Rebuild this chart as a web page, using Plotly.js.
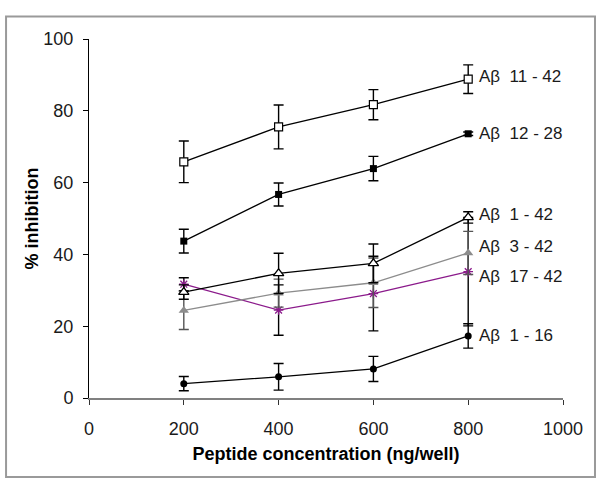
<!DOCTYPE html>
<html>
<head>
<meta charset="utf-8">
<script src="https://cdn.plot.ly/plotly-3.0.1.min.js"></script>
<style>
  body { margin: 0; background: #fff; }
  #chart { width: 601px; height: 494px; }
</style>
</head>
<body>
<div id="chart"></div>
<script>
// concentrations (ng/well)
var conc = [200, 400, 600, 800];

// % inhibition per peptide, with error
var ab11_42 = [65.8, 75.5, 81.7, 88.8];
var ab11_42Err = [5.8, 6.1, 4.2, 4.0];

var ab12_28 = [43.7, 56.7, 63.9, 73.6];
var ab12_28Err = [3.3, 3.2, 3.4, 0.5];

var ab1_42 = [29.5, 34.7, 37.5, 50.3];
var ab1_42Err = [2.0, 5.6, 5.4, 1.6];

var ab3_42 = [24.4, 29.2, 32.1, 40.4];
var ab3_42Err = [5.3, 3.9, 6.9, 6.0];

var ab17_42 = [31.7, 24.5, 29.1, 35.2];
var ab17_42Err = [1.8, 7.0, 10.4, 15.1];

var ab1_16 = [4.0, 5.9, 8.1, 17.3];
var ab1_16Err = [2.0, 3.7, 3.5, 3.4];

var labels = ['Aβ&nbsp; 11 - 42', 'Aβ&nbsp; 12 - 28', 'Aβ&nbsp; 1 - 42',
              'Aβ&nbsp; 3 - 42', 'Aβ&nbsp; 17 - 42', 'Aβ&nbsp; 1 - 16'];

var font = "'Liberation Sans', Arial, sans-serif";

function series(y, err, lineColor, errColor, marker) {
    return {
        x: conc,
        y: y,
        type: 'scatter',
        mode: 'lines+markers',
        line: { color: lineColor, width: 1.3 },
        marker: marker,
        error_y: { type: 'data', array: err, visible: true, color: errColor, thickness: 1.4, width: 5 },
        showlegend: false,
        hoverinfo: 'x+y'
    };
}

var data = [
    series(ab1_16, ab1_16Err, '#000', '#000', { symbol: 'circle', size: 7, color: '#000' }),
    series(ab17_42, ab17_42Err, '#8b1a8b', '#000', { symbol: 'asterisk-open', size: 8, line: { color: '#8b1a8b', width: 1.3 } }),
    series(ab3_42, ab3_42Err, '#8c8c8c', '#555', { symbol: 'triangle-up', size: 9, color: '#8c8c8c' }),
    series(ab1_42, ab1_42Err, '#000', '#000', { symbol: 'triangle-up', size: 9, color: '#fff', line: { color: '#000', width: 1.3 } }),
    series(ab12_28, ab12_28Err, '#000', '#000', { symbol: 'square', size: 7, color: '#000' }),
    series(ab11_42, ab11_42Err, '#000', '#000', { symbol: 'square', size: 8, color: '#fff', line: { color: '#000', width: 1.2 } })
];

var lastVals = [ab11_42[3], ab12_28[3], ab1_42[3], ab3_42[3], ab17_42[3], ab1_16[3]];
var shifts = [3, 0, 3, 6, -5, 0];

var annotations = labels.map(function (t, i) {
    return {
        x: conc[3], y: lastVals[i], xref: 'x', yref: 'y',
        text: t, showarrow: false, xanchor: 'left', yanchor: 'middle',
        xshift: 9, yshift: shifts[i],
        font: { family: font, size: 17, color: '#1a1a1a' }
    };
});

var layout = {
    width: 601,
    height: 494,
    margin: { l: 89, r: 38, t: 39, b: 96 },
    paper_bgcolor: '#fff',
    plot_bgcolor: '#fff',
    font: { family: font, size: 18, color: '#1a1a1a' },
    xaxis: {
        range: [0, 1000],
        tickvals: [0, 200, 400, 600, 800, 1000],
        showgrid: false,
        zeroline: false,
        showline: true,
        linecolor: '#808080',
        linewidth: 2,
        ticks: 'outside',
        ticklen: 5,
        tickcolor: '#333',
        ticklabelstandoff: 8,
        title: { text: '<b>Peptide concentration (ng/well)</b>', font: { size: 18, color: '#000' }, standoff: 10 }
    },
    yaxis: {
        range: [0, 100],
        tickvals: [0, 20, 40, 60, 80, 100],
        showgrid: false,
        zeroline: false,
        showline: true,
        linecolor: '#000',
        linewidth: 1,
        ticks: 'outside',
        ticklen: 5,
        tickcolor: '#000',
        ticklabelstandoff: 6,
        title: { text: '<b>% inhibition</b>', font: { size: 18, color: '#000' }, standoff: 0 }
    },
    shapes: [{
        type: 'rect', xref: 'paper', yref: 'paper',
        x0: -0.175, x1: 1.0675, y0: -0.22, y1: 1.063,
        line: { color: '#9a9a9a', width: 2 }
    }],
    annotations: annotations
};

Plotly.newPlot('chart', data, layout, { displayModeBar: false });
</script>
</body>
</html>
